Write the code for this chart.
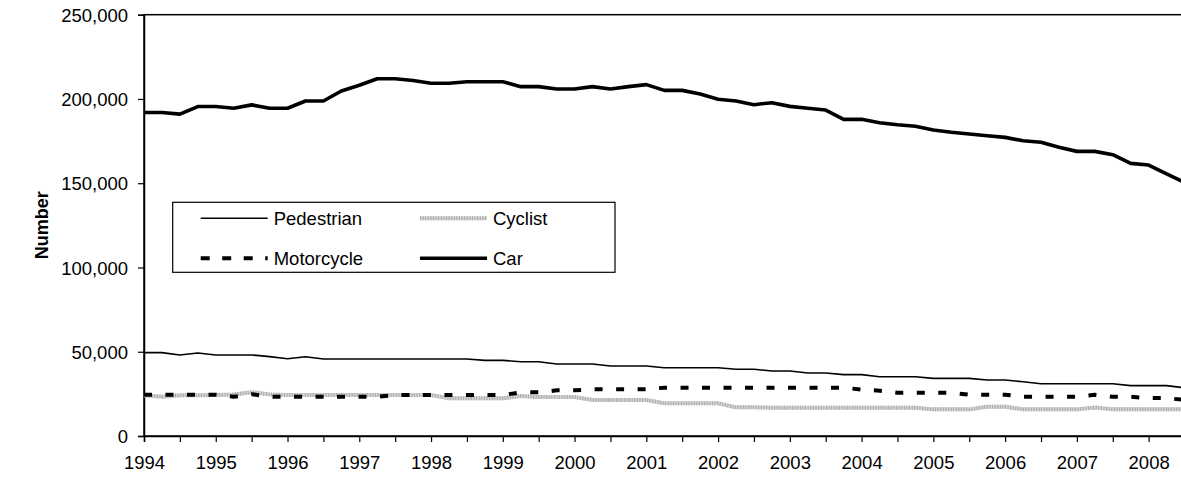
<!DOCTYPE html>
<html>
<head>
<meta charset="utf-8">
<script src="https://cdn.jsdelivr.net/npm/d3@7"></script>
<style>
  body { margin: 0; background: #fff; }
  svg { display: block; font-family: 'Liberation Sans', Arial, sans-serif; }
</style>
</head>
<body>
<div id="chart"></div>
<script>
// tick labels and categories (quarterly, from 1994 Q1)
const years = [1994, 1995, 1996, 1997, 1998, 1999, 2000, 2001, 2002, 2003, 2004, 2005, 2006, 2007, 2008]
const quarters = years.flatMap((y) => [y, y + 0.25, y + 0.5, y + 0.75])
const yTicks = [0, 50000, 100000, 150000, 200000, 250000]

// series values
const pedestrian = [
  49500, 49500, 48100, 49300, 48100, 48100, 48100, 47100, 45800, 47000,
  45700, 45700, 45700, 45700, 45700, 45700, 45700, 45700, 45700, 44900,
  44900, 44100, 44100, 42700, 42700, 42700, 41500, 41500, 41500, 40500,
  40500, 40500, 40500, 39600, 39600, 38600, 38600, 37400, 37400, 36400,
  36400, 35200, 35200, 35200, 34200, 34200, 34200, 33200, 33200, 32200,
  31000, 31000, 31000, 31000, 31000, 29900, 29900, 29900, 28600,
]
const cyclist = [
  24200, 23300, 24200, 24200, 24300, 24600, 26000, 24700, 24300, 24300,
  24300, 24300, 24300, 24300, 24300, 24300, 24300, 22400, 22400, 22400,
  22400, 23700, 23100, 23100, 23100, 21400, 21400, 21400, 21400, 19400,
  19400, 19400, 19400, 17000, 17000, 16800, 16800, 16800, 16800, 16800,
  16800, 16800, 16800, 16800, 15800, 15800, 15800, 17400, 17400, 15800,
  15800, 15800, 15800, 16900, 15800, 15800, 15800, 15800, 15800,
]
const motorcycle = [
  24500, 24500, 24500, 24500, 24500, 23300, 24800, 23300, 23300, 23300,
  23300, 23300, 23300, 23300, 24300, 24300, 24300, 24300, 24300, 24300,
  24300, 25900, 25900, 27100, 27100, 27700, 27700, 27700, 27700, 28700,
  28700, 28700, 28700, 28700, 28700, 28700, 28700, 28700, 28700, 28700,
  27500, 26900, 25700, 25700, 25700, 25700, 24500, 24500, 24500, 23300,
  23300, 23300, 23300, 24500, 23300, 23300, 22500, 22500, 21400,
]
const car = [
  192000, 192000, 191000, 195500, 195500, 194500, 196500, 194500, 194500, 198800,
  198800, 204700, 208100, 212000, 212000, 211000, 209300, 209300, 210200, 210200,
  210200, 207300, 207300, 205900, 205900, 207300, 205900, 207300, 208500, 205100,
  205100, 202900, 199800, 198800, 196600, 197800, 195600, 194500, 193400, 187900,
  187900, 185900, 184700, 183800, 181600, 180200, 179200, 178200, 177200, 175200,
  174300, 171300, 168900, 168900, 166900, 161800, 160800, 155500, 150500,
]

const width = 1181
const height = 479
const margin = { top: 14.7, left: 144, bottom: 436 }
const yearWidth = 71.76

const svg = d3
  .select('#chart')
  .append('svg')
  .attr('width', width)
  .attr('height', height)

const x = d3
  .scaleLinear()
  .domain([1994, 2009])
  .range([margin.left, margin.left + 15 * yearWidth])

const y = d3
  .scaleLinear()
  .domain([0, 250000])
  .range([margin.bottom, margin.top])

// plot area border (runs off the right edge, as in the picture)
svg
  .append('rect')
  .attr('x', x(1994))
  .attr('y', y(250000))
  .attr('width', x(2009) - x(1994))
  .attr('height', y(0) - y(250000))
  .attr('fill', 'none')
  .attr('stroke', '#000')
  .attr('stroke-width', 1.5)

// y axis
const yAxis = svg
  .append('g')
  .attr('transform', `translate(${x(1994)},0)`)
  .call(
    d3
      .axisLeft(y)
      .tickValues(yTicks)
      .tickSize(6)
      .tickPadding(10)
      .tickFormat(d3.format(','))
  )
yAxis.select('.domain').attr('stroke-width', 1.5)
yAxis.selectAll('.tick line').attr('stroke-width', 1.2)
yAxis.selectAll('text').attr('font-size', 18.5).attr('fill', '#000').attr('dy', '0.36em')

// x axis: ticks each half year, labels each year
const xAxis = svg
  .append('g')
  .attr('transform', `translate(0,${y(0)})`)
  .call(
    d3
      .axisBottom(x)
      .tickValues(d3.range(1994, 2009, 0.5))
      .tickSize(6)
      .tickPadding(14)
      .tickFormat((d) => (Number.isInteger(d) ? d : ''))
  )
xAxis.select('.domain').attr('stroke-width', 1.5)
xAxis.selectAll('.tick line').attr('stroke-width', 1.2)
xAxis.selectAll('text').attr('font-size', 18.5).attr('fill', '#000')

svg
  .append('text')
  .attr('transform', `translate(48,${(y(0) + y(250000)) / 2}) rotate(-90)`)
  .attr('text-anchor', 'middle')
  .attr('font-size', 18)
  .attr('font-weight', 'bold')
  .text('Number')

const series = [
  { name: 'Pedestrian', values: pedestrian, styles: [{ stroke: '#000', width: 1.6 }] },
  {
    name: 'Cyclist',
    values: cyclist,
    styles: [
      { stroke: '#d4d4d4', width: 4 },
      { stroke: '#a9a9a9', width: 4, dash: '1,1.6' },
    ],
  },
  { name: 'Motorcycle', values: motorcycle, styles: [{ stroke: '#000', width: 4, dash: '8,13.5' }] },
  { name: 'Car', values: car, styles: [{ stroke: '#000', width: 3.6 }] },
]

const line = d3
  .line()
  .x((d, i) => x(quarters[i]))
  .y((d) => y(d))

const lines = svg.append('g').attr('class', 'lines')
series.forEach((s) => {
  s.styles.forEach((st) => {
    lines
      .append('path')
      .datum(s.values)
      .attr('fill', 'none')
      .attr('stroke', st.stroke)
      .attr('stroke-width', st.width)
      .attr('stroke-dasharray', st.dash || null)
      .attr('stroke-linejoin', 'round')
      .attr('d', line)
  })
})

// legend
const legend = svg.append('g').attr('class', 'legend')
legend
  .append('rect')
  .attr('x', 172.7)
  .attr('y', 202.3)
  .attr('width', 442.3)
  .attr('height', 70)
  .attr('fill', '#fff')
  .attr('stroke', '#000')
  .attr('stroke-width', 1.2)

const legendPos = [
  { x: 200.7, y: 218.3 },
  { x: 420, y: 218.3 },
  { x: 200.7, y: 258.3 },
  { x: 420, y: 258.3 },
]
series.forEach((s, i) => {
  const p = legendPos[i]
  s.styles.forEach((st) => {
    legend
      .append('line')
      .attr('x1', p.x)
      .attr('x2', p.x + 67)
      .attr('y1', p.y)
      .attr('y2', p.y)
      .attr('stroke', st.stroke)
      .attr('stroke-width', st.width)
      .attr('stroke-dasharray', s.name === 'Motorcycle' ? '9,12.5' : st.dash || null)
  })
  legend
    .append('text')
    .attr('x', p.x + 73)
    .attr('y', p.y)
    .attr('dy', '0.36em')
    .attr('font-size', 18.5)
    .text(s.name)
})
</script>
</body>
</html>
